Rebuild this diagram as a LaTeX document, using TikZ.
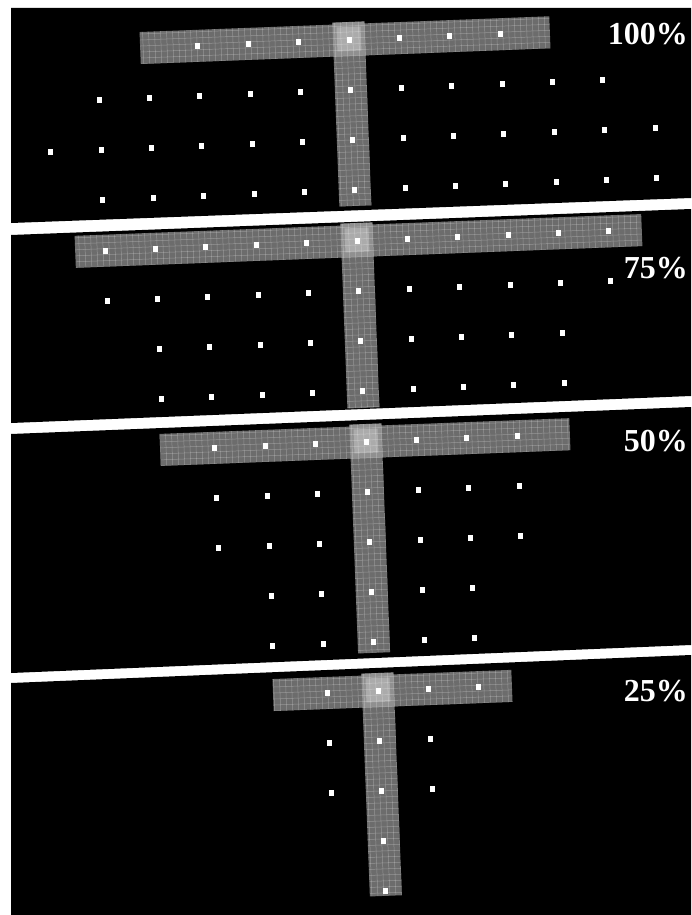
\documentclass[tikz,border=0pt]{standalone}
\usepackage{fontspec}
\setmainfont{Liberation Serif}
\usetikzlibrary{positioning}

\begin{document}
\begin{tikzpicture}[x=1pt, y=-1pt,
    spot/.style={rectangle, fill=white, minimum width=5pt, minimum height=6pt, inner sep=0pt},
    tag/.style={text=white, font=\fontsize{32}{32}\selectfont\bfseries, inner sep=0pt, anchor=east},
    bar/.style={fill=gray!85!black},
    mesh/.style={white, opacity=0.28, line width=0.5pt},
    glow/.style={fill=white, opacity=0.25}]

      % Page, white margin and the four black frames
      \useasboundingbox (0,0) rectangle (691,915);
      \fill[white] (0,0) rectangle (691,915);
      \fill[black] (11,8) -- (691,8) -- (691,198) -- (11,223) -- cycle;
      \fill[black] (11,235) -- (691,209) -- (691,396) -- (11,423) -- cycle;
      \fill[black] (11,434) -- (691,407) -- (691,645) -- (11,673) -- cycle;
      \fill[black] (11,683) -- (691,655) -- (691,915) -- (11,915) -- cycle;

      % Spacing of the dot grid
      \def\gapx{50.4}
      \def\gapy{50}

      % Tilt of the scanned frames
      \def\tilt{2.2}

      % One T per frame: centre, bar ends, stem end, rows of dots, label
      \foreach \n/\cx/\cy/\bl/\br/\bot/\rows/\ly/\lab in {
          1/349/40/-209/201/166/{0/-3/3,1/-5/5,2/-6/6,3/-5/6}/34/100,
          2/357/241/-282/285/167/{0/-5/5,1/-5/5,2/-4/4,3/-4/4}/268/75,
          3/366/442/-206/204/211/{0/-3/3,1/-3/3,2/-3/3,3/-2/2,4/-2/2}/441/50,
          4/378/691/-105/134/205/{0/-1/2,1/-1/1,2/-1/1,3/0/0,4/0/0}/691/25} {
        \begin{scope}[shift={(\cx,\cy)}, rotate=\tilt]
          % Bar and stem
          \fill[bar] (\bl,-16) rectangle (\br,16) (-16,-18) rectangle (16,\bot);
          \begin{scope}
            \clip (\bl,-16) rectangle (\br,16) (-16,-18) rectangle (16,\bot);
            \foreach \g in {-290,-284,...,290} \draw[mesh] (\g,-20) -- (\g,220);
            \foreach \g in {-20,-14,...,220} \draw[mesh] (-290,\g) -- (290,\g);
          \end{scope}
          \fill[glow] (-16,-18) rectangle (16,16);
          \fill[glow] (-12,-13) rectangle (12,11);

          % Dots, row by row
          \foreach \r/\a/\b in \rows {
            \foreach \c in {\a,...,\b} {
              \node[spot] (d\n r\r c\c) at (\c*\gapx, \r*\gapy) {};
            }
          }
        \end{scope}

        % Percentage label
        \node[tag] (tag\n) at (688,\ly) {\lab\%};
      }
    \end{tikzpicture}
\end{document}
